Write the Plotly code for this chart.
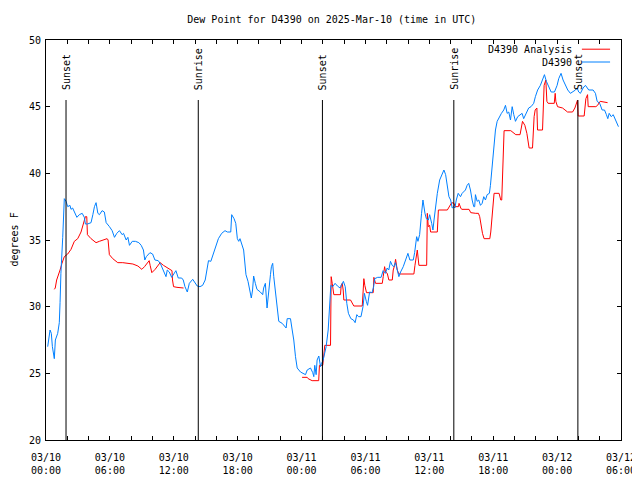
import pandas as pd
import plotly.graph_objects as go

BASE = pd.Timestamp("2025-03-10 00:00")

# Observed dew point (D4390): hours since 03/10 00:00 UTC, degrees F
obs_hours = [0.16, 0.38, 0.5, 0.6, 0.78, 0.88, 1.1, 1.25, 1.32, 1.4, 1.57, 1.72, 1.88, 2.04, 2.25, 2.35, 2.5, 2.65,
             2.9, 3.13, 3.4, 3.6, 3.7, 3.9, 4.23, 4.4, 4.55, 4.7, 4.87, 5.02, 5.27, 5.48, 5.65, 5.96, 6.21, 6.43,
             6.65, 6.9, 7.15, 7.28, 7.53, 7.69, 7.84, 8.1, 8.4, 8.72, 8.94, 9.15, 9.28, 9.42, 9.76, 10.01, 10.23,
             10.54, 10.76, 11.0, 11.27, 11.39, 11.58, 11.8, 11.95, 12.2, 12.42, 12.74, 12.89, 13.05, 13.27, 13.46,
             13.78, 14.0, 14.2, 14.46, 14.71, 14.95, 15.1, 15.26, 15.48, 15.72, 15.97, 16.19, 16.5, 16.81, 17.03,
             17.35, 17.44, 17.66, 17.82, 17.97, 18.1, 18.22, 18.56, 18.65, 18.78, 18.97, 19.1, 19.28, 19.4, 19.5,
             19.66, 19.81, 20.13, 20.35, 20.44, 20.6, 20.76, 20.9, 21.08, 21.17, 21.29, 21.39, 21.55, 21.71, 21.86,
             22.18, 22.42, 22.55, 22.65, 22.96, 23.12, 23.27, 23.43, 23.59, 23.9, 24.37, 24.53, 24.84, 25.05, 25.15,
             25.24, 25.37, 25.46, 25.62, 25.78, 25.87, 26.0, 26.18, 26.31, 26.5, 26.62, 26.75, 26.93, 27.15, 27.37,
             27.62, 27.93, 28.1, 28.25, 28.4, 28.63, 28.87, 29.03, 29.19, 29.35, 29.58, 29.77, 29.9, 30.08, 30.2,
             30.39, 30.62, 30.77, 30.87, 31.15, 31.47, 31.66, 31.88, 32.04, 32.19, 32.35, 32.51, 32.66, 32.82,
             32.99, 33.14, 33.3, 33.55, 33.77, 33.99, 34.17, 34.49, 34.62, 34.81, 34.93, 35.09, 35.27, 35.4, 35.59,
             35.72, 35.91, 36.03, 36.22, 36.34, 36.44, 36.6, 36.75, 36.97, 37.22, 37.37, 37.53, 37.69, 37.84, 38.0,
             38.15, 38.3, 38.4, 38.53, 38.71, 38.93, 39.08, 39.39, 39.55, 39.7, 39.86, 40.02, 40.17, 40.26, 40.33,
             40.49, 40.64, 40.8, 40.96, 41.11, 41.27, 41.43, 41.64, 41.74, 41.9, 42.05, 42.21, 42.37, 42.58, 42.77,
             42.99, 43.15, 43.31, 43.46, 43.62, 43.78, 43.93, 44.09, 44.3, 44.49, 44.71, 44.86, 45.02, 45.18, 45.33,
             45.55, 45.8, 45.96, 46.17, 46.43, 46.65, 46.81, 46.99, 47.21, 47.44, 47.75, 48.0, 48.15, 48.37, 48.56,
             48.78, 49.0, 49.25, 49.5, 49.72, 49.88, 50.03, 50.19, 50.44, 50.66, 50.97, 51.38, 51.6, 51.76, 52.0,
             52.23, 52.45, 52.63, 52.76, 52.89, 53.08, 53.27, 53.48, 53.64, 53.76]
obs_values = [27.0, 28.25, 28.0, 27.0, 26.1, 27.5, 28.0, 28.8, 30.3, 32.5, 35.2, 38.1, 37.9, 37.5, 37.6, 37.3, 37.4, 37.1,
              36.7, 36.9, 37.0, 36.7, 36.2, 36.2, 36.3, 36.9, 37.5, 37.8, 37.0, 36.9, 37.2, 37.1, 36.3, 36.0, 35.7, 35.2,
              35.5, 35.7, 35.4, 35.5, 35.0, 35.2, 34.6, 34.9, 34.9, 34.8, 34.6, 34.25, 33.5, 33.75, 34.05, 33.95, 33.5,
              33.45, 33.2, 32.75, 32.25, 32.75, 32.6, 32.2, 32.4, 32.7, 32.15, 32.15, 32.0, 31.5, 31.1, 31.75,
              32.05, 31.75, 31.55, 31.5, 31.6, 32.0, 32.6, 33.45, 33.4, 34.0, 34.6, 35.1, 35.5, 35.7, 35.6,
              35.6, 36.9, 36.6, 36.25, 35.1, 34.9, 35.1, 34.25, 33.25, 32.4, 31.9, 31.4, 30.65, 31.25, 32.3,
              31.75, 31.3, 31.1, 30.9, 31.4, 31.75, 29.9, 31.25, 32.4, 33.0, 33.25, 32.25, 31.0, 29.9, 28.9,
              28.75, 28.5, 28.4, 29.1, 29.1, 28.25, 27.5, 26.25, 25.4, 25.1, 24.9, 25.25, 25.4, 25.05, 24.75,
              25.6, 24.9, 26.0, 26.3, 25.5, 25.75, 25.9, 26.5, 27.0, 28.25, 30.25, 31.6, 31.5, 31.75, 31.55,
              31.4, 31.9, 31.5, 30.25, 29.5, 29.1, 29.0, 28.8, 29.4, 29.25, 29.25, 30.0, 31.0, 30.4, 30.1,
              31.1, 31.05, 31.5, 32.1, 32.2, 32.2, 32.7, 32.5, 32.9, 32.75, 33.4, 33.1, 33.0, 33.3,
              32.75, 32.25, 32.6, 33.0, 33.5, 34.0, 33.5, 33.5, 34.05, 35.25, 34.9, 35.4, 37.0, 38.0, 37.0,
              36.6, 36.5, 36.9, 36.25, 35.75, 36.5, 37.75, 38.5, 39.5, 40.0, 40.25, 39.9, 39.1, 38.25, 38.0,
              37.4, 37.5, 37.4, 38.0, 38.5, 38.25, 38.5, 38.75, 39.1, 39.25, 38.75, 38.0, 37.5, 37.5, 38.4,
              37.9, 38.0, 37.6, 37.75, 38.25, 38.0, 38.4, 38.5, 39.1, 40.5, 41.75, 43.25, 43.9, 44.25, 44.5,
              44.75, 45.1, 44.5, 44.6, 44.0, 45.0, 44.4, 43.9, 44.25, 44.4, 44.5, 44.1, 44.4, 44.6, 44.9,
              45.0, 45.25, 45.75, 46.25, 46.6, 47.1, 47.4, 46.9, 46.5, 46.1, 46.1, 46.6, 47.1, 47.5, 47.0,
              46.6, 46.25, 46.0, 46.1, 46.25, 46.4, 46.1, 46.0, 46.4, 46.6, 46.25, 46.25, 46.0, 45.4, 45.25,
              44.75, 44.75, 44.4, 44.1, 44.5, 44.25, 44.4, 44.0, 43.6, 43.5]

# Analysis dew point (D4390 Analysis); None marks the data gap
ana_hours = [0.78, 0.87, 1.0, 1.19, 1.32, 1.5, 1.72, 2.04, 2.35, 2.66, 2.98, 3.29, 3.51, 3.7, 3.83, 3.89, 4.23, 4.7,
             5.01, 5.33, 5.74, 5.83, 5.95, 6.27, 6.74, 7.21, 7.69, 8.16, 8.63, 9.0, 9.25, 9.47, 9.69, 9.78, 9.94,
             10.25, 10.56, 10.72, 11.03, 11.35, 11.67, 11.83, 11.88, 11.98, 12.3, 12.6, 12.92, 18.0,
             24.05, 24.53, 24.62, 24.99, 25.61, 25.68, 25.99, 26.09, 26.18, 26.72, 26.78, 26.88, 27.03, 27.66,
             27.72, 27.82, 27.91, 27.97, 28.6, 28.91, 29.7, 29.79, 29.85, 29.94, 30.1, 30.73, 30.79, 30.95, 31.58,
             31.67, 31.8, 31.89, 32.05, 32.2, 32.52, 32.61, 32.74, 32.83, 32.99, 33.14, 34.55, 34.65, 34.87, 35.02,
             35.75, 35.81, 35.9, 36.03, 36.12, 36.75, 36.85, 37.69, 37.85, 38.1, 38.32, 38.41, 38.73, 38.79, 38.95,
             39.04, 39.73, 39.89, 40.36, 40.61, 40.73, 40.83, 40.99, 41.14, 41.68, 41.77, 41.93, 42.08, 42.55,
             42.71, 42.8, 42.93, 43.02, 43.65, 44.12, 44.52, 44.75, 44.97, 45.16, 45.37, 45.69, 45.84, 45.94, 46.1,
             46.16, 46.63, 46.78, 46.94, 47.04, 47.16, 47.73, 47.82, 47.88, 48.04, 48.51, 48.98, 49.45, 49.67,
             49.92, 49.98, 50.54, 50.7, 50.86, 50.92, 51.64, 51.8, 52.04, 52.74]
ana_values = [31.3, 31.4, 32.0, 32.4, 32.75, 33.25, 33.75, 33.95, 34.3, 34.9, 35.1, 35.6, 36.25, 36.75, 36.75, 35.4, 35.1, 34.8,
              34.9, 35.0, 35.1, 35.0, 33.9, 33.6, 33.3, 33.3, 33.25, 33.2, 33.05, 32.8, 33.0, 33.25, 33.45, 33.1, 32.55,
              32.8, 33.1, 33.3, 33.1, 32.95, 32.8, 32.7, 32.0, 31.5, 31.45, 31.4, 31.4, None,
              24.7, 24.7, 24.6, 24.45, 24.45, 25.6, 25.6, 26.3, 27.1, 27.1, 32.25, 31.75, 30.9, 30.9,
              31.6, 31.75, 31.25, 30.5, 30.5, 30.05, 30.05, 31.25, 32.1, 31.6, 31.05, 31.05, 32.2, 31.75, 31.75,
              32.25, 33.0, 32.6, 32.5, 32.0, 32.0, 32.75, 33.1, 33.55, 32.75, 32.45, 32.45, 33.1, 34.25, 33.1,
              33.1, 37.0, 36.0, 36.1, 35.6, 35.6, 37.25, 37.25, 37.5, 37.8, 37.75, 37.5, 37.5, 37.75, 37.4,
              37.3, 37.3, 37.05, 37.0, 37.0, 36.75, 36.1, 35.5, 35.1, 35.1, 35.6, 37.25, 38.5, 38.5,
              38.0, 38.0, 41.25, 43.2, 43.2, 42.9, 42.9, 43.9, 43.6, 43.0, 41.9, 41.9, 44.25, 44.75, 44.9,
              43.25, 43.25, 46.6, 47.0, 45.4, 45.25, 45.25, 46.0, 45.4, 45.0, 44.9, 44.6, 44.6, 44.9,
              45.5, 44.3, 44.3, 45.6, 45.9, 45.0, 45.0, 45.1, 45.4, 45.3]

sun_labels = ["Sunset", "Sunrise", "Sunset", "Sunrise", "Sunset"]
sun_hours = [1.88, 14.3, 25.96, 38.3, 49.95]

series_names = ["D4390 Analysis", "D4390"]
series_colors = ["#ff0000", "#0080ff"]

FONT = "DejaVu Sans Mono"


def to_time(hours):
    return [BASE + pd.Timedelta(hours=h) if h is not None else None for h in hours]


fig = go.Figure()
fig.add_trace(go.Scatter(x=to_time(ana_hours), y=ana_values, mode="lines", name=series_names[0],
                         line=dict(color=series_colors[0], width=1), connectgaps=False))
fig.add_trace(go.Scatter(x=to_time(obs_hours), y=obs_values, mode="lines", name=series_names[1],
                         line=dict(color=series_colors[1], width=1)))

# Sunrise / sunset markers
for lab, h in zip(sun_labels, sun_hours):
    t = BASE + pd.Timedelta(hours=h)
    fig.add_shape(type="line", xref="x", yref="paper", x0=t, x1=t, y0=0, y1=0.85,
                  line=dict(color="black", width=1))
    fig.add_annotation(x=t, xref="x", y=0.87, yref="paper", text=lab, textangle=-90,
                       showarrow=False, xanchor="center", yanchor="bottom",
                       font=dict(family=FONT, size=10, color="black"))

# Gnuplot-style legend (text right-aligned, line sample to the right)
leg_y = [0.977, 0.945]
for name, col, yy in zip(series_names, series_colors, leg_y):
    fig.add_annotation(x=0.918, xref="paper", y=yy, yref="paper", text=name, showarrow=False,
                       xanchor="right", yanchor="middle", font=dict(family=FONT, size=10, color="black"))
    fig.add_shape(type="line", xref="paper", yref="paper", x0=0.932, x1=0.981, y0=yy, y1=yy,
                  line=dict(color=col, width=1))

# y-axis title (kept fully inside the figure)
fig.add_annotation(x=-0.0565, xref="paper", y=0.5, yref="paper", text="degrees F", textangle=-90,
                   showarrow=False, xanchor="center", yanchor="middle",
                   font=dict(family=FONT, size=10, color="black"))

# The page body has an 8 px margin, so the figure is made 8 px smaller and
# the left/top margins are reduced by 8 px to land the plot area at 46..621 x 40..440.
fig.update_layout(
    width=632, height=472,
    margin=dict(l=38, r=19, t=32, b=40, autoexpand=False),
    paper_bgcolor="white", plot_bgcolor="white",
    showlegend=False,
    font=dict(family=FONT, size=10, color="black"),
    title=dict(text="Dew Point for D4390 on 2025-Mar-10 (time in UTC)", x=0.497, xref="paper",
               y=1 - 11 / 472, yref="container", xanchor="center", yanchor="middle",
               font=dict(family=FONT, size=10, color="black")),
)
fig.update_xaxes(
    type="date", range=[BASE, BASE + pd.Timedelta(hours=54)],
    tick0=BASE, dtick=6 * 3600 * 1000, tickformat="%m/%d<br>%H:%M",
    ticks="inside", ticklen=4, tickcolor="black", ticklabelstandoff=8,
    minor=dict(dtick=2 * 3600 * 1000, ticks="inside", ticklen=4, tickcolor="black", showgrid=False),
    showline=True, linecolor="black", linewidth=1, mirror="ticks", showgrid=False, zeroline=False,
    tickfont=dict(family=FONT, size=10, color="black"),
)
fig.update_yaxes(
    range=[20, 50], dtick=5, ticks="inside", ticklen=4, tickcolor="black",
    showline=True, linecolor="black", linewidth=1, mirror="ticks", showgrid=False, zeroline=False,
    tickfont=dict(family=FONT, size=10, color="black"), ticklabelstandoff=2,
)

fig.write_html("out.html")
